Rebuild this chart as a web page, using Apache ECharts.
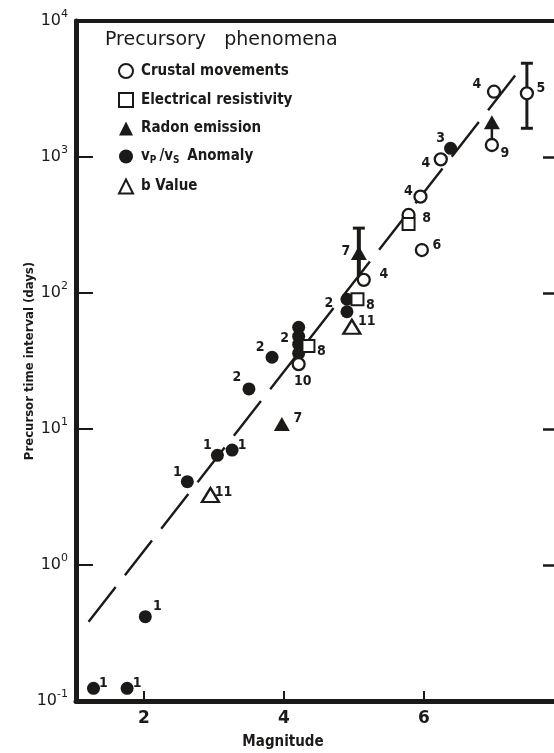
<!DOCTYPE html>
<html><head><meta charset="utf-8">
<script src="https://cdn.jsdelivr.net/npm/echarts@6/dist/echarts.min.js"></script>
<style>html,body{margin:0;padding:0;background:#fff}#c{width:554px;height:753px}</style>
</head><body><div id="c"></div>
<script>
// ---------------- data ----------------
const xTicks = [2, 4, 6, 8];

const crustMag   = [4.21, 5.14, 5.78, 5.97, 5.95, 6.24, 6.97, 7.00, 7.47];
const crustDays  = [30, 125, 375, 207, 511, 961, 1225, 3020, 2940];
const crustLabel = ['10', '4', '8', '6', '4', '4', '9', '4', '5'];

const resistMag   = [4.35, 5.05, 5.78];
const resistDays  = [40.7, 90, 321];
const resistLabel = ['8', '8', ''];

const radonMag   = [3.97, 5.07, 6.97];
const radonDays  = [10.9, 197, 1800];
const radonLabel = ['7', '7', ''];

const vpvsMag   = [1.28, 1.76, 2.02, 2.62, 3.05, 3.26, 3.50, 3.83, 4.21, 4.21, 4.21, 4.21, 4.90, 4.90, 6.38];
const vpvsDays  = [0.124, 0.124, 0.417, 4.1, 6.4, 7.0, 19.7, 33.7, 56, 48, 42, 36, 90, 72.8, 1159];
const vpvsLabel = ['1', '1', '1', '1', '1', '1', '2', '2', '', '2', '', '', '', '2', '3'];

const bMag   = [2.95, 4.97];
const bDays  = [3.27, 56.5];
const bLabel = ['11', '11'];

// error bars / arrow (magnitude, low, high)
const errMag  = [7.47, 5.07, 6.97];
const errLow  = [1626, 133, 1225];
const errHigh = [4890, 300, 1800];

// fitted line end points
const fitMag  = [1.21, 7.40];
const fitDays = [0.383, 4610];

// ---------------- styling (label offsets, bar styles) ----------------
const crustOff  = [[4,17],[20,-5],[18,3],[15,-5],[-12,-5],[-15,4],[13,8],[-17,-7],[14,-5]];
const resistOff = [[13,5],[13,6],[0,0]];
const radonOff  = [[16,-6],[-13,-2],[0,0]];
const vpvsOff   = [[10,-5],[10,-5],[12,-10],[-10,-9],[-10,-10],[10,-5],[-12,-12],[-12,-10],[0,0],[-14,2],[0,0],[0,0],[0,0],[-18,-8],[-10,-10]];
const bOff      = [[13,-3],[15,-5]];
const errStyle  = [{w:3, cap:12, top:true, bot:true}, {w:4, cap:12, top:true, bot:false}, {w:2.5, cap:0, top:false, bot:false}];

const INK = '#1c1a18';
const CND = '"DejaVu Sans Condensed","Liberation Sans Narrow","DejaVu Sans",sans-serif';

function pts(mag, days, labels, offs) {
  return mag.map((m, i) => ({
    name: labels[i],
    value: [m, days[i]],
    label: { offset: offs[i] }
  }));
}
const labelBase = {
  show: true, position: 'inside', formatter: '{b}', color: INK,
  fontSize: 14, fontWeight: 'bold', fontFamily: CND
};

const chart = echarts.init(document.getElementById('c'), null, {renderer: 'canvas'});
chart.setOption({
  animation: false,
  backgroundColor: '#ffffff',
  grid: { left: 76, top: 21, width: 488, height: 680, outerBoundsMode: 'none', containLabel: false },
  xAxis: [{
    type: 'value', min: 1.03, max: 8, position: 'bottom',
    axisLine: { show: true, onZero: false, lineStyle: { color: INK, width: 5 } },
    axisTick: { show: true, inside: true, length: 10, customValues: xTicks, lineStyle: { color: INK, width: 2 } },
    axisLabel: { customValues: xTicks, margin: 9, color: INK, fontSize: 17, fontWeight: 'bold', fontFamily: '"DejaVu Sans",sans-serif', hideOverlap: false },
    splitLine: { show: false }
  }, {
    type: 'value', min: 1.03, max: 8, position: 'top',
    axisLine: { show: true, onZero: false, lineStyle: { color: INK, width: 4 } },
    axisTick: { show: false }, axisLabel: { show: false }, splitLine: { show: false }
  }],
  yAxis: [{
    type: 'log', logBase: 10, min: 0.1, max: 10000, interval: 1, position: 'left',
    axisLine: { show: true, onZero: false, lineStyle: { color: INK, width: 5 } },
    axisTick: { show: true, inside: true, length: 17, lineStyle: { color: INK, width: 2 } },
    axisLabel: {
      margin: 8,
      formatter: v => '{b|10}{s|' + Math.round(Math.log10(v)) + '}',
      rich: {
        b: { fontSize: 16, lineHeight: 24, color: INK, fontFamily: '"DejaVu Sans",sans-serif' },
        s: { fontSize: 11, lineHeight: 11, verticalAlign: 'top', color: INK, fontFamily: '"DejaVu Sans",sans-serif' }
      }
    },
    splitLine: { show: false }, minorTick: { show: false }
  }, {
    type: 'log', logBase: 10, min: 0.1, max: 10000, interval: 1, position: 'right',
    axisLine: { show: true, onZero: false, lineStyle: { color: INK, width: 4 } },
    axisTick: { show: true, inside: true, length: 21, lineStyle: { color: INK, width: 2.5 } },
    axisLabel: { show: false }, splitLine: { show: false }
  }],
  legend: {
    orient: 'vertical', left: 113, top: 58, itemWidth: 14, itemHeight: 14, itemGap: 13,
    data: ['Crustal movements', 'Electrical resistivity', 'Radon emission', 'vP/vS Anomaly', 'b Value'],
    formatter: n => n === 'vP/vS Anomaly' ? '{t|v}{u|P}{t|/v}{u|S}{t| Anomaly}' : '{t|' + n + '}',
    textStyle: {
      color: INK,
      rich: {
        t: { fontSize: 15, lineHeight: 18, fontWeight: 'bold', color: INK, fontFamily: CND, padding: [0,0,0,3] },
        u: { fontSize: 10, lineHeight: 18, fontWeight: 'bold', color: INK, fontFamily: CND, verticalAlign: 'bottom' }
      }
    },
    selectedMode: false
  },
  graphic: [
    { type: 'text', left: 105, top: 31, style: { text: 'Precursory   phenomena', fill: INK, font: '19px "DejaVu Sans",sans-serif' } },
    { type: 'text', x: 30, y: 361, rotation: Math.PI / 2,
      style: { text: 'Precursor time interval (days)', fill: INK, align: 'center', verticalAlign: 'middle', font: 'bold 13px ' + CND } },
    { type: 'text', x: 283, y: 742,
      style: { text: 'Magnitude', fill: INK, align: 'center', verticalAlign: 'middle', font: 'bold 15px ' + CND } }
  ],
  series: [
    {
      type: 'line', name: 'fit', z: 1, silent: true, symbol: 'none',
      data: fitMag.map((m, i) => [m, fitDays[i]]),
      lineStyle: { color: INK, width: 2.4, type: [44, 15] }
    },
    {
      type: 'custom', name: 'bars', z: 2, silent: true,
      data: errMag.map((m, i) => [m, errLow[i], errHigh[i], i]),
      encode: { x: 0, y: [1, 2] },
      renderItem: (params, api) => {
        const m = api.value(0);
        const lo = api.coord([m, api.value(1)]);
        const hi = api.coord([m, api.value(2)]);
        const st = errStyle[api.value(3)];
        const sty = { stroke: INK, lineWidth: st.w };
        const ch = [{ type: 'line', shape: { x1: lo[0], y1: lo[1], x2: hi[0], y2: hi[1] }, style: sty }];
        if (st.top) ch.push({ type: 'line', shape: { x1: hi[0] - st.cap / 2, y1: hi[1], x2: hi[0] + st.cap / 2, y2: hi[1] }, style: { stroke: INK, lineWidth: 3 } });
        if (st.bot) ch.push({ type: 'line', shape: { x1: lo[0] - st.cap / 2, y1: lo[1], x2: lo[0] + st.cap / 2, y2: lo[1] }, style: { stroke: INK, lineWidth: 3 } });
        return { type: 'group', children: ch };
      }
    },
    {
      type: 'scatter', name: 'vP/vS Anomaly', z: 3, symbol: 'circle', symbolSize: 13,
      itemStyle: { color: INK, opacity: 1 },
      label: labelBase,
      data: pts(vpvsMag, vpvsDays, vpvsLabel, vpvsOff)
    },
    {
      type: 'scatter', name: 'Crustal movements', z: 4, symbol: 'circle', symbolSize: 12,
      itemStyle: { color: '#ffffff', borderColor: INK, borderWidth: 2.3, opacity: 1 },
      label: labelBase,
      data: pts(crustMag, crustDays, crustLabel, crustOff)
    },
    {
      type: 'scatter', name: 'Electrical resistivity', z: 4, symbol: 'rect', symbolSize: 12,
      itemStyle: { color: '#ffffff', borderColor: INK, borderWidth: 2, opacity: 1 },
      label: labelBase,
      data: pts(resistMag, resistDays, resistLabel, resistOff)
    },
    {
      type: 'scatter', name: 'Radon emission', z: 5, symbol: 'triangle', symbolSize: [16, 14],
      itemStyle: { color: INK, opacity: 1 },
      label: labelBase,
      data: pts(radonMag, radonDays, radonLabel, radonOff)
    },
    {
      type: 'scatter', name: 'b Value', z: 4, symbol: 'triangle', symbolSize: [17, 14],
      itemStyle: { color: '#ffffff', borderColor: INK, borderWidth: 2.3, opacity: 1 },
      label: labelBase,
      data: pts(bMag, bDays, bLabel, bOff)
    }
  ]
});
</script></body></html>
